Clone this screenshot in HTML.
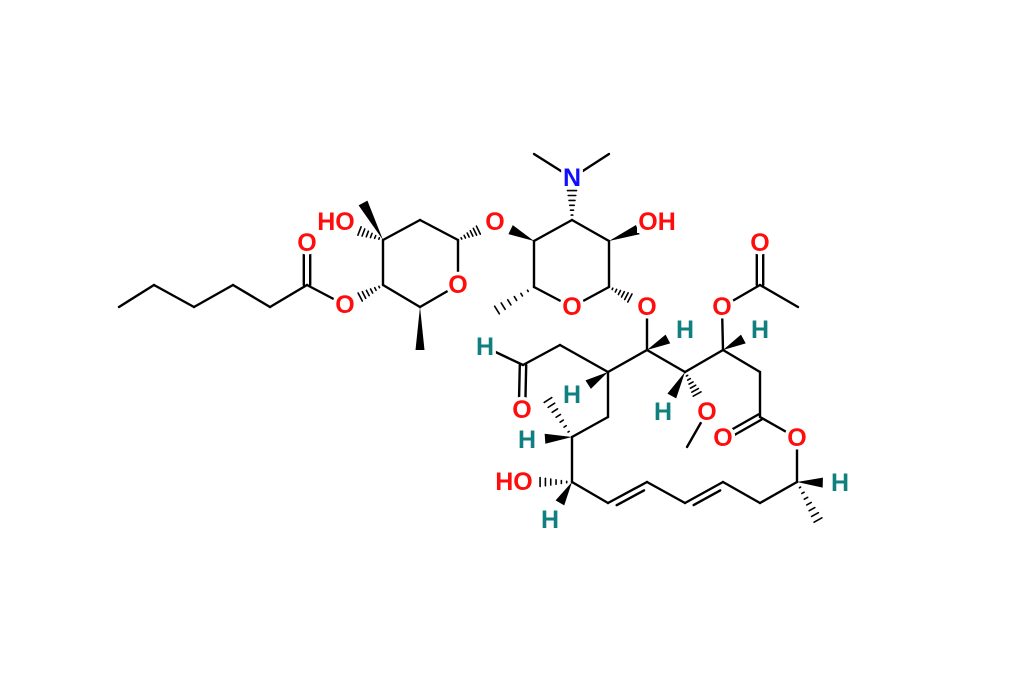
<!DOCTYPE html>
<html><head><meta charset="utf-8"><style>
html,body{margin:0;padding:0;background:#fff}
svg{display:block}
text{font-family:"Liberation Sans",Arial,sans-serif;font-size:25px;font-weight:bold;text-anchor:middle;dominant-baseline:central;paint-order:stroke;stroke:#fff;stroke-width:7px;stroke-linejoin:round}
.O{fill:#ff0d0d}.N{fill:#1010ff}.H{fill:#0f7f7f}
</style></head><body>
<svg id="s" width="1024" height="699" viewBox="0 0 1024 699" xmlns="http://www.w3.org/2000/svg">
<g id="b" stroke="#000" stroke-width="2.4" stroke-linecap="round" fill="#000"></g>
<g id="t"></g>
</svg>
<script>
const A={a1:[119,307],a2:[154,285],a3:[194,307],a4:[233,285],a5:[270,307],c6:[307,285],Oc:[307,243],Oe:[345,305],
r4:[383,285],r3:[383,240],r2:[420,220],r1:[458,240],rO:[458,285],r5:[420,307],r5m:[420,350],r3m:[363,203],HO1:[336,222],OL1:[495,222],
s4:[534,241],s3:[572,220],N:[572,178],Nm1:[534,154],Nm2:[609,154],s2:[609,241],OH2:[657,222],s1:[609,287],sO:[572,307],s5:[534,287],s5m:[497,310],OL2:[647,307],
m1:[647,350],m1H:[685,330],m2:[685,372],m3:[723,350],m3H:[760,330],Oac:[722,307],acC:[760,285],acO:[760,243],acMe:[798,307],
m4:[760,372],m5:[760,417],m5O:[723,438],Or:[797,438],m6:[797,482],m6H:[840,483],m6Me:[818,520],m7:[760,503],m8:[723,482],m9:[685,503],m10:[647,482],m11:[608,503],m12:[572,482],HO3:[514,482],m12H:[550,520],m13:[572,437],m13H:[527,440],m13Me:[548,400],m14:[608,417],m15:[608,372],m15H:[572,395],m16:[560,345],cho:[523,365],choO:[522,410],choH:[485,347],m2H:[663,412],m2O:[707,412],OMe:[687,447]};
const g=document.getElementById('b'),T=document.getElementById('t'),NS='http://www.w3.org/2000/svg';
function L(x1,y1,x2,y2){const e=document.createElementNS(NS,'line');e.setAttribute('x1',x1);e.setAttribute('y1',y1);e.setAttribute('x2',x2);e.setAttribute('y2',y2);g.appendChild(e);}
function b(p,q){L(A[p][0],A[p][1],A[q][0],A[q][1]);}
function dbl(p,q,o){const [x1,y1]=A[p],[x2,y2]=A[q];const dx=x2-x1,dy=y2-y1,l=Math.hypot(dx,dy),nx=-dy/l*o,ny=dx/l*o;L(x1+nx,y1+ny,x2+nx,y2+ny);L(x1-nx,y1-ny,x2-nx,y2-ny);}
function inner(p,q,o){const [x1,y1]=A[p],[x2,y2]=A[q];const dx=x2-x1,dy=y2-y1,l=Math.hypot(dx,dy),nx=-dy/l*o,ny=dx/l*o;L(x1,y1,x2,y2);L(x1+nx+dx*.15,y1+ny+dy*.15,x2+nx-dx*.15,y2+ny-dy*.15);}
function pt(p,q,f){return [A[p][0]+(A[q][0]-A[p][0])*f,A[p][1]+(A[q][1]-A[p][1])*f];}
function wedge(p,q,f=1,w=4.5){const [x1,y1]=A[p];const [x2,y2]=pt(p,q,f);const dx=x2-x1,dy=y2-y1,l=Math.hypot(dx,dy),nx=-dy/l*w,ny=dx/l*w;const e=document.createElementNS(NS,'polygon');e.setAttribute('points',`${x1},${y1} ${x2+nx},${y2+ny} ${x2-nx},${y2-ny}`);e.setAttribute('stroke','none');g.appendChild(e);}
function hash(p,q,f=1,w=4.5,n=6){const [x1,y1]=A[p];const [x2,y2]=pt(p,q,f);const dx=x2-x1,dy=y2-y1,l=Math.hypot(dx,dy);for(let i=1;i<=n;i++){const t=i/n,hw=w*t,cx=x1+dx*t,cy=y1+dy*t,nx=-dy/l*hw,ny=dx/l*hw;const e=document.createElementNS(NS,'line');e.setAttribute('x1',cx+nx);e.setAttribute('y1',cy+ny);e.setAttribute('x2',cx-nx);e.setAttribute('y2',cy-ny);e.setAttribute('stroke-width','1.6');g.appendChild(e);}}
function lab(k,s,c,dx=0){const r=document.createElementNS(NS,'circle');r.setAttribute('cx',A[k][0]);r.setAttribute('cy',A[k][1]);r.setAttribute('r',s.length>1?0:11);r.setAttribute('fill','#fff');T.appendChild(r);
if(s.length>1){const q=document.createElementNS(NS,'rect');q.setAttribute('x',A[k][0]-20);q.setAttribute('y',A[k][1]-11);q.setAttribute('width',40);q.setAttribute('height',22);q.setAttribute('fill','#fff');T.appendChild(q);}
const e=document.createElementNS(NS,'text');e.setAttribute('x',A[k][0]+dx);e.setAttribute('y',A[k][1]);e.setAttribute('class',c);e.textContent=s;T.appendChild(e);}
b('a1','a2');b('a2','a3');b('a3','a4');b('a4','a5');b('a5','c6');dbl('c6','Oc',3.2);b('c6','Oe');
hash('r4','Oe',0.6);
b('r4','r3');b('r3','r2');b('r2','r1');b('r1','rO');b('rO','r5');b('r5','r4');
wedge('r5','r5m');wedge('r3','r3m',1,5);hash('r3','HO1',0.5);hash('r1','OL1',0.55);
wedge('s4','OL1',0.6,5);b('s4','s3');b('s3','s2');b('s2','s1');b('s1','sO');b('sO','s5');b('s5','s4');
hash('s3','N',0.7);b('N','Nm1');b('N','Nm2');wedge('s2','OH2',0.6,5);hash('s5','s5m');hash('s1','OL2',0.55);
b('OL2','m1');wedge('m1','m1H',0.55,5);b('m1','m2');b('m2','m3');b('m3','Oac');wedge('m3','m3H',0.55,5);
b('Oac','acC');dbl('acC','acO',3.2);b('acC','acMe');
b('m3','m4');b('m4','m5');dbl('m5','m5O',3);b('m5','Or');b('Or','m6');wedge('m6','m6H',0.6,5);hash('m6','m6Me',1,4.5,7);
b('m6','m7');b('m7','m8');inner('m8','m9',-6);b('m9','m10');inner('m10','m11',-6);b('m11','m12');
hash('m12','HO3',0.55);wedge('m12','m12H',0.55,5);b('m12','m13');wedge('m13','m13H',0.6,5);hash('m13','m13Me',1,4.5,7);
b('m13','m14');b('m14','m15');wedge('m15','m15H',0.55,5);b('m15','m16');b('m15','m1');b('m16','cho');
dbl('cho','choO',3.2);b('cho','choH');
wedge('m2','m2H',0.6,5);hash('m2','m2O',0.55);b('m2O','OMe');
lab('Oc','O','O');lab('Oe','O','O');lab('rO','O','O');lab('HO1','HO','O');lab('OL1','O','O');
lab('N','N','N');lab('OH2','OH','O');lab('sO','O','O');lab('OL2','O','O');lab('Oac','O','O');lab('acO','O','O');
lab('m1H','H','H');lab('m3H','H','H');lab('m5O','O','O');lab('Or','O','O');lab('m6H','H','H');
lab('HO3','HO','O');lab('m12H','H','H');lab('m13H','H','H');lab('m15H','H','H');lab('choO','O','O');lab('choH','H','H');
lab('m2H','H','H');lab('m2O','O','O');
</script>
</body></html>
